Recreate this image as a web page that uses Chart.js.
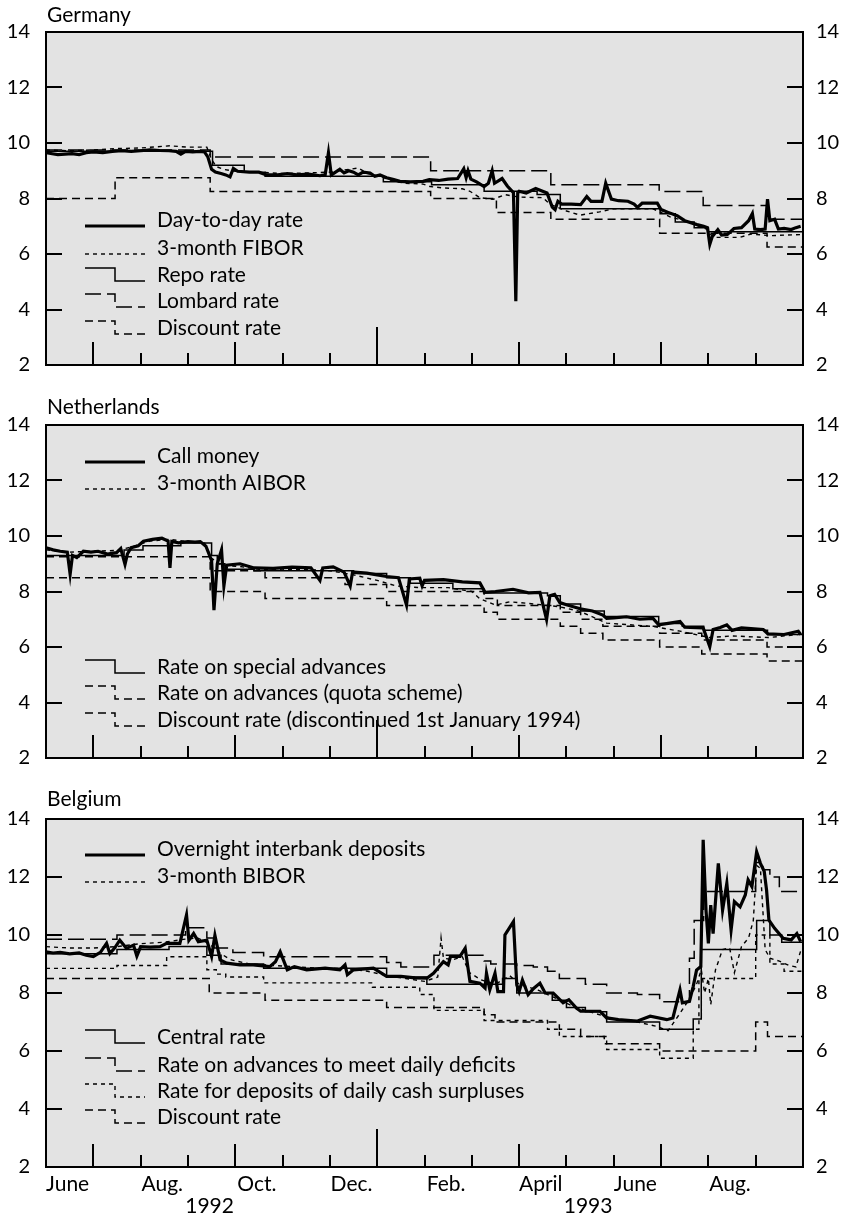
<!DOCTYPE html>
<html><head><meta charset="utf-8">
<script src="https://cdn.jsdelivr.net/npm/chart.js@4"></script>
<style>
html,body{margin:0;padding:0;background:#fff;}
#wrap{position:relative;width:848px;height:1218px;overflow:hidden;}
canvas{position:absolute;left:0;}
</style></head><body>
<div id="wrap">
<canvas id="c1" width="848" height="393" style="top:0;width:848px;height:393px"></canvas>
<canvas id="c2" width="848" height="393" style="top:393px;width:848px;height:393px"></canvas>
<canvas id="c3" width="848" height="431" style="top:787px;width:848px;height:431px"></canvas>
</div>
<script>
// time axis: months since 1 June 1992 (0 = 1 June 1992, 16 = 1 October 1993)
const MONTH_TICKS = [0,1,2,3,4,5,6,7,8,9,10,11,12,13,14,15,16];
const MONTH_LABELS = ['June','Aug.','Oct.','Dec.','Feb.','April','June','Aug.'];
const MONTH_LABEL_POS = [0.5,2.5,4.5,6.5,8.5,10.5,12.5,14.5];
const YEAR_LABELS = ['1992','1993'];
const YEAR_LABEL_POS = [3.5,11.5];
const Y_TICKS = [2,4,6,8,10,12,14];

// ---------------- Germany ----------------
const deDayT = [0,0.1,0.25,0.4,0.55,0.7,0.85,1,1.2,1.4,1.6,1.8,2,2.2,2.4,2.6,2.75,2.85,2.95,3.1,3.25,3.35,3.42,3.5,3.58,3.7,3.8,3.89,3.96,4.05,4.3,4.5,4.66,4.9,5.1,5.3,5.55,5.79,5.9,5.97,6.03,6.12,6.21,6.3,6.4,6.5,6.6,6.7,6.85,6.95,7.06,7.2,7.35,7.48,7.7,7.97,8.1,8.3,8.5,8.7,8.83,8.88,8.92,8.98,9.1,9.26,9.35,9.43,9.48,9.64,9.75,9.88,9.93,9.97,10,10.15,10.35,10.59,10.7,10.76,10.82,10.9,11.1,11.3,11.43,11.52,11.75,11.83,11.95,12.1,12.3,12.43,12.5,12.6,12.92,13,13.15,13.34,13.5,13.76,13.9,13.98,14.03,14.08,14.2,14.28,14.4,14.54,14.7,14.85,14.93,14.98,15.1,15.2,15.25,15.3,15.4,15.48,15.6,15.75,15.85,15.95];
const deDayV = [9.65,9.62,9.58,9.6,9.62,9.58,9.65,9.68,9.65,9.7,9.72,9.7,9.72,9.75,9.73,9.72,9.7,9.6,9.7,9.68,9.7,9.68,9.5,9.05,8.95,8.9,8.85,8.78,9.08,8.98,8.95,8.95,8.85,8.85,8.9,8.85,8.88,8.82,8.85,9.65,8.85,8.95,9.05,8.92,9,8.95,8.85,8.95,8.92,8.8,8.85,8.75,8.68,8.62,8.6,8.62,8.68,8.65,8.7,8.72,9.07,8.75,9,8.7,8.6,8.43,8.55,9,8.55,8.72,8.45,8.21,4.3,8.2,8.26,8.2,8.36,8.2,7.69,7.6,7.9,7.8,7.8,7.78,8.07,7.9,7.9,8.55,7.98,7.92,7.9,7.8,7.68,7.83,7.83,7.6,7.5,7.38,7.2,7.06,7,6.95,6.35,6.62,6.88,6.68,6.7,6.92,6.95,7.2,7.46,6.9,6.88,6.9,7.98,7.2,7.25,6.9,6.92,6.88,6.95,7];
const deFiborT = [0,0.5,1,1.5,2,2.62,3,3.4,3.5,3.6,3.75,4,4.5,5,5.5,6,6.4,6.6,6.8,7.06,7.3,7.6,7.97,8.12,8.4,8.8,8.96,9.17,9.45,9.7,10,10.5,10.65,11,11.29,11.7,12,12.83,13.19,13.55,13.97,14.1,14.67,14.9,15.3,15.94];
const deFiborV = [9.75,9.72,9.75,9.8,9.82,9.9,9.85,9.85,9.4,9.15,9.05,8.98,8.95,8.9,8.92,8.95,9.05,9.1,8.9,8.8,8.65,8.55,8.52,8.43,8.38,8.35,8.26,8.03,7.97,8.14,8.05,8.03,7.8,7.55,7.4,7.52,7.63,7.63,7.34,7.17,6.89,6.6,6.6,6.72,6.66,6.7];
const deRepoT = [0,3.52,4.19,4.63,7.13,8.15,9.26,10.38,10.87,12.98,13.3,13.7,14.0,16];
const deRepoV = [9.7,9.2,8.95,8.8,8.6,8.5,8.26,8.14,7.63,7.45,7.15,6.95,6.8,6.8];
const deLombardT = [0,3.47,8.13,10.67,12.96,13.89,15.24,16];
const deLombardV = [9.75,9.5,9.0,8.5,8.25,7.75,7.25,7.25];
const deDiscountT = [0,1.46,3.47,8.13,9.52,10.67,12.97,15.24,16];
const deDiscountV = [8.0,8.75,8.25,8.0,7.5,7.25,6.75,6.25,6.25];

// ---------------- Netherlands ----------------
const nlCallT = [0,0.15,0.3,0.45,0.51,0.56,0.65,0.79,0.95,1.1,1.3,1.49,1.58,1.67,1.72,1.8,1.95,2.06,2.25,2.45,2.58,2.62,2.66,2.8,3,3.15,3.26,3.38,3.5,3.55,3.62,3.71,3.76,3.82,4.1,4.4,4.8,5.2,5.6,5.79,5.85,6.07,6.3,6.43,6.48,6.78,7,7.2,7.45,7.62,7.68,7.9,7.95,8,8.4,8.8,9.17,9.28,9.5,9.87,10.2,10.44,10.58,10.65,10.75,10.86,11,11.29,11.55,11.77,11.85,12,12.27,12.55,12.83,12.95,13.15,13.4,13.5,13.89,14.03,14.1,14.25,14.39,14.5,14.7,15.16,15.26,15.6,15.9,15.95];
const nlCallV = [9.58,9.5,9.45,9.42,8.62,9.3,9.22,9.45,9.42,9.45,9.35,9.4,9.55,8.98,9.35,9.58,9.65,9.81,9.88,9.92,9.82,8.85,9.8,9.75,9.8,9.78,9.8,9.63,9.11,7.33,9,9.5,8.2,8.95,9,8.85,8.83,8.88,8.85,8.4,8.85,8.89,8.7,8.2,8.7,8.66,8.6,8.54,8.5,7.51,8.45,8.48,8.2,8.4,8.43,8.35,8.31,7.97,8,8.08,7.95,7.97,6.99,7.85,7.9,7.6,7.52,7.38,7.3,7.15,7.03,7.05,7.09,7,7.03,6.8,6.85,6.92,6.71,6.69,6.01,6.63,6.7,6.8,6.6,6.69,6.63,6.47,6.45,6.57,6.45];
const nlAiborT = [0,0.5,1,1.5,1.8,2.2,2.6,3,3.35,3.5,3.7,4.1,4.5,5,5.5,6,6.5,7,7.4,7.9,8.5,9,9.17,9.5,9.8,10.2,10.86,11.29,11.85,12.83,13.4,14.03,14.5,15.26,15.9];
const nlAiborV = [9.5,9.42,9.45,9.48,9.6,9.82,9.88,9.8,9.75,9.2,8.95,8.9,8.8,8.78,8.8,8.75,8.6,8.4,8.2,8.14,8.14,8,7.74,7.51,7.63,7.57,7.45,7.28,6.86,6.74,6.57,6.34,6.4,6.34,6.45];
const nlSpecialT = [0,1.65,2.05,2.85,3.5,3.62,3.78,4.4,6.5,7.2,7.7,8.6,9.25,10.6,10.87,11.3,11.8,12.95,13.45,13.9,15.25,16];
const nlSpecialV = [9.3,9.5,9.65,9.75,9.3,9.0,8.8,8.75,8.65,8.5,8.3,8.1,7.95,7.85,7.55,7.3,7.1,6.85,6.75,6.6,6.45,6.45];
const nlQuotaT = [0,3.47,4.63,6.32,7.2,9.26,9.54,10.87,11.3,11.77,12.97,13.86,15.24,16];
const nlQuotaV = [9.25,8.75,8.5,8.25,8.0,7.75,7.5,7.25,7.0,6.75,6.5,6.25,6.0,6.0];
const nlDiscountT = [0,3.47,4.63,7.2,9.26,9.54,10.87,11.3,11.77,12.97,13.86,15.24,16];
const nlDiscountV = [8.5,8.0,7.75,7.5,7.25,7.0,6.75,6.5,6.25,6.0,5.75,5.5,5.5];

// ---------------- Belgium ----------------
const beOvernightT = [0,0.15,0.3,0.5,0.7,0.85,1,1.15,1.28,1.35,1.45,1.56,1.7,1.85,1.92,2,2.2,2.41,2.55,2.83,2.97,3.02,3.12,3.22,3.4,3.5,3.57,3.68,3.82,4.1,4.38,4.73,4.85,4.95,5.1,5.25,5.51,5.9,6.21,6.32,6.37,6.5,6.92,7.2,7.5,7.8,8.05,8.19,8.4,8.5,8.55,8.75,8.86,8.96,9.17,9.28,9.31,9.38,9.49,9.55,9.67,9.7,9.88,9.95,10,10.07,10.19,10.3,10.44,10.55,10.72,10.93,11.05,11.21,11.3,11.71,11.85,12.1,12.49,12.77,13.12,13.25,13.4,13.45,13.6,13.68,13.75,13.84,13.89,13.95,14,14.05,14.1,14.21,14.3,14.39,14.48,14.55,14.67,14.78,14.84,14.92,15.02,15.1,15.18,15.23,15.28,15.4,15.58,15.75,15.87,15.95];
const beOvernightV = [9.42,9.38,9.4,9.35,9.38,9.3,9.26,9.4,9.71,9.36,9.55,9.82,9.54,9.65,9.27,9.6,9.58,9.6,9.71,9.71,10.69,9.82,10.05,9.77,9.82,9.26,9.99,9.14,9.03,8.97,8.97,8.91,9.08,9.42,8.8,8.91,8.8,8.86,8.8,8.97,8.63,8.8,8.86,8.57,8.57,8.52,8.51,8.68,9.08,8.97,9.26,9.26,9.54,8.4,8.34,8.17,8.68,8.11,8.68,8.05,8.05,10,10.46,8.28,8.05,8.45,7.94,8.15,8.34,8,8,7.66,7.77,7.48,7.37,7.37,7.14,7.08,7.03,7.2,7.08,7.14,8.11,7.66,7.71,8.23,8.79,8.91,13.28,10.86,9.71,11.03,10.05,12.47,10.86,11.78,10.17,11.15,10.97,11.38,11.9,11.67,12.87,12.47,12.2,11.55,10.51,10.23,9.89,9.83,10.05,9.77];
const beBiborT = [0,0.5,1,1.5,2,2.5,2.9,3.2,3.45,3.65,3.9,4.3,4.8,5.3,5.8,6.3,6.8,7.2,7.6,8,8.28,8.35,8.4,8.6,8.8,8.95,9.2,9.5,9.8,10,10.4,10.8,11.2,11.6,12,12.5,12.9,13.15,13.4,13.6,13.75,13.85,13.92,14,14.05,14.15,14.3,14.45,14.55,14.7,14.85,14.95,15.02,15.1,15.2,15.3,15.5,15.7,15.85,15.95];
const beBiborV = [9.6,9.55,9.55,9.6,9.7,9.75,9.85,9.9,9.7,9.4,9.15,9,8.95,8.9,8.85,8.85,8.75,8.6,8.5,8.4,8.55,9.9,9.2,9.15,9.25,8.7,8.45,8.3,8.6,8.3,8.1,7.8,7.5,7.3,7.1,7,6.85,6.7,7.3,7.8,8.3,8.8,8,8.5,7.6,8.8,9.5,9.55,8.7,9.6,9.9,10.5,12.4,12.3,9.5,9.2,9.1,8.95,8.9,9.45];
const beCentralT = [0,1.5,2.6,3.4,3.7,4.6,7.2,8.05,9.65,9.95,10.7,11,11.4,11.85,12.97,13.68,13.85,15.02,15.3,15.55,16];
const beCentralV = [9.35,9.5,9.6,9.3,9.0,8.85,8.55,8.3,8.5,8.0,7.75,7.5,7.35,7.0,6.75,7.1,9.5,10.5,10.0,9.75,9.75];
const beAdvancesT = [0,1.5,2.95,3.4,3.55,3.95,4.6,7.2,7.5,8.2,9.26,9.4,9.95,10.3,10.6,10.85,11.4,11.85,12.5,12.97,13.6,13.7,13.9,15.0,15.15,15.3,15.5,16];
const beAdvancesV = [9.85,10.0,10.25,9.9,9.55,9.4,9.25,9.05,8.9,9.3,9.1,9.0,8.95,8.9,8.75,8.5,8.3,8.0,7.95,7.7,9.2,10.5,11.5,12.5,12.25,12.0,11.5,11.5];
const beDepositsT = [0,1.5,2.55,3.4,3.6,3.8,4.6,6.9,7.9,8.2,9.26,10.6,10.85,11.85,12.97,13.68,13.8,15.0,15.3,15.6,16];
const beDepositsV = [8.85,8.95,9.25,8.8,8.65,8.55,8.35,8.2,7.95,7.4,7.05,6.75,6.5,6.05,5.75,6.75,8.5,10.0,9.0,8.75,8.75];
const beDiscountT = [0,3.45,4.63,7.2,9.26,9.49,10.85,11.3,11.8,12.97,15.0,15.25,16];
const beDiscountV = [8.5,8.0,7.75,7.5,7.25,7.0,6.75,6.5,6.25,6.0,7.0,6.5,6.5];

// ---------------- styling ----------------
const FONT = 'Lato';
const BG = '#e3e3e3';
const THICK = {borderWidth:3.2, borderDash:[]};
const THIN = {borderWidth:1.5, borderDash:[]};
const SHORT = {borderWidth:1.4, borderDash:[4,4]};
const MED = {borderWidth:1.5, borderDash:[8,5]};
const LONG = {borderWidth:1.5, borderDash:[16,6]};

function series(t, v, style, stepped){
  return Object.assign({
    data: t.map((x,i)=>({x:x, y:v[i]})),
    borderColor:'#000', pointRadius:0, fill:false, tension:0,
    stepped: stepped ? 'before' : false, borderJoinStyle:'miter', borderCapStyle:'butt'
  }, style);
}

function tickLen(m){ if(m===7) return 38; if(m%3===1) return 23; return 12; }

function makePanel(id, H, title, titleY, datasets, legend, showX){
  const plugin = {
    id:'panelDeco',
    beforeDraw(chart){
      const {ctx, chartArea:a} = chart;
      ctx.save(); ctx.fillStyle = BG;
      ctx.fillRect(a.left, a.top, a.right-a.left, a.bottom-a.top);
      ctx.restore();
    },
    afterDraw(chart){
      const {ctx, chartArea:a} = chart;
      const xs = chart.scales.x, ys = chart.scales.y;
      ctx.save();
      ctx.strokeStyle='#000'; ctx.lineWidth=2; ctx.setLineDash([]);
      ctx.strokeRect(a.left, a.top, a.right-a.left, a.bottom-a.top);
      MONTH_TICKS.forEach(m=>{
        if(m===0||m===16) return;
        const x = Math.round(xs.getPixelForValue(m));
        ctx.beginPath(); ctx.moveTo(x, a.bottom); ctx.lineTo(x, a.bottom - tickLen(m)); ctx.stroke();
      });
      Y_TICKS.forEach(v=>{
        const y = Math.round(ys.getPixelForValue(v));
        ctx.beginPath(); ctx.moveTo(a.left, y); ctx.lineTo(a.left+16, y); ctx.stroke();
        ctx.beginPath(); ctx.moveTo(a.right, y); ctx.lineTo(a.right-16, y); ctx.stroke();
      });
      ctx.fillStyle='#000'; ctx.font='21px '+FONT; ctx.textAlign='left'; ctx.textBaseline='middle';
      ctx.fillText(title, 47, titleY);
      legend.forEach(it=>{
        ctx.save();
        ctx.lineWidth = it.style.borderWidth; ctx.setLineDash(it.style.borderDash);
        ctx.beginPath();
        if(it.step){ ctx.moveTo(85, it.y-7); ctx.lineTo(115, it.y-7); ctx.lineTo(115, it.y+6); ctx.lineTo(145, it.y+6); }
        else { ctx.moveTo(85, it.y+6); ctx.lineTo(145, it.y+6); }
        ctx.stroke(); ctx.restore();
        ctx.fillText(it.text, 157, it.y);
      });
      if(showX){
        ctx.textAlign='center'; ctx.font='21px '+FONT;
        MONTH_LABELS.forEach((s,i)=> ctx.fillText(s, xs.getPixelForValue(MONTH_LABEL_POS[i]) - 2, a.bottom+17));
        YEAR_LABELS.forEach((s,i)=> ctx.fillText(s, xs.getPixelForValue(YEAR_LABEL_POS[i]) - 2, a.bottom+39));
      }
      ctx.restore();
    }
  };
  const yCommon = {min:2, max:14, ticks:{stepSize:2, color:'#000', font:{family:FONT, size:20}}, grid:{display:false, drawTicks:false}, border:{display:false}};
  return new Chart(document.getElementById(id), {
    type:'line',
    data:{datasets:datasets},
    options:{
      responsive:false, animation:false, devicePixelRatio:1,
      layout:{padding:{top:32, bottom:H-380, left:0, right:0}},
      plugins:{legend:{display:false}, tooltip:{enabled:false}, title:{display:false}},
      scales:{
        x:{type:'linear', min:0, max:16, display:false},
        y:Object.assign({}, yCommon, {position:'left', ticks:Object.assign({}, yCommon.ticks, {padding:16}), afterFit(s){s.width=46;}}),
        y2:Object.assign({}, yCommon, {position:'right', ticks:Object.assign({}, yCommon.ticks, {padding:13}), afterFit(s){s.width=45;}})
      }
    },
    plugins:[plugin]
  });
}

makePanel('c1', 393, 'Germany', 15, [
  series(deDayT, deDayV, THICK),
  series(deFiborT, deFiborV, SHORT),
  series(deRepoT, deRepoV, THIN, true),
  series(deLombardT, deLombardV, LONG, true),
  series(deDiscountT, deDiscountV, MED, true)
], [
  {text:'Day-to-day rate', y:220, style:THICK},
  {text:'3-month FIBOR', y:248, style:SHORT},
  {text:'Repo rate', y:275, style:THIN, step:true},
  {text:'Lombard rate', y:301, style:LONG, step:true},
  {text:'Discount rate', y:328, style:MED, step:true}
], false);

makePanel('c2', 393, 'Netherlands', 14, [
  series(nlCallT, nlCallV, THICK),
  series(nlAiborT, nlAiborV, SHORT),
  series(nlSpecialT, nlSpecialV, THIN, true),
  series(nlQuotaT, nlQuotaV, MED, true),
  series(nlDiscountT, nlDiscountV, MED, true)
], [
  {text:'Call money', y:63, style:THICK},
  {text:'3-month AIBOR', y:90, style:SHORT},
  {text:'Rate on special advances', y:274, style:THIN, step:true},
  {text:'Rate on advances (quota scheme)', y:300, style:MED, step:true},
  {text:'Discount rate (discontinued 1st January 1994)', y:327, style:MED, step:true}
], false);

makePanel('c3', 431, 'Belgium', 12, [
  series(beOvernightT, beOvernightV, THICK),
  series(beBiborT, beBiborV, SHORT),
  series(beCentralT, beCentralV, THIN, true),
  series(beAdvancesT, beAdvancesV, LONG, true),
  series(beDepositsT, beDepositsV, SHORT, true),
  series(beDiscountT, beDiscountV, MED, true)
], [
  {text:'Overnight interbank deposits', y:62, style:THICK},
  {text:'3-month BIBOR', y:89, style:SHORT},
  {text:'Central rate', y:250, style:THIN, step:true},
  {text:'Rate on advances to meet daily deficits', y:278, style:LONG, step:true},
  {text:'Rate for deposits of daily cash surpluses', y:304, style:SHORT, step:true},
  {text:'Discount rate', y:330, style:MED, step:true}
], true);
</script>
</body></html>
